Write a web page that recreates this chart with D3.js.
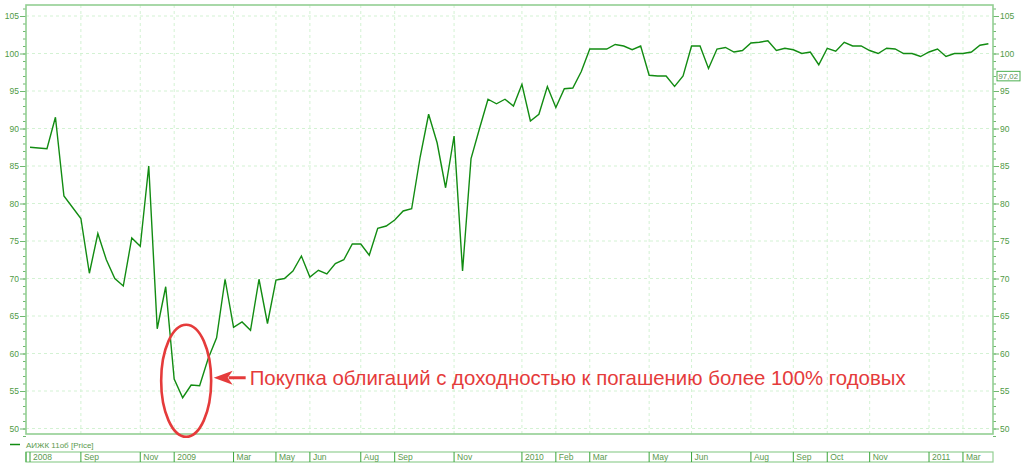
<!DOCTYPE html>
<html><head><meta charset="utf-8">
<script src="https://cdn.jsdelivr.net/npm/d3@7/dist/d3.min.js"></script>
<style>
html,body{margin:0;padding:0;background:#fff;}
svg{display:block;font-family:"Liberation Sans",Arial,sans-serif;}
</style></head><body>
<svg id="chart" width="1024" height="463"></svg>
<script>
// Price series (weekly quotes, index-based axis)
const prices = [
 87.5,87.4,87.3,91.5,81.0,79.5,78.0,70.7,76.0,72.5,
 70.0,69.0,75.4,74.3,85.0,63.3,68.9,56.6,54.1,55.8,
 55.7,59.3,62.1,69.9,63.5,64.2,63.1,69.9,64.0,69.8,
 70.0,71.0,73.0,70.2,71.1,70.6,72.0,72.5,74.6,74.6,
 73.1,76.7,77.0,77.8,79.0,79.3,86.2,91.9,88.1,82.1,
 89.0,71.0,86.0,90.0,93.9,93.3,93.9,93.0,95.9,91.0,
 91.9,95.6,92.8,95.3,95.4,97.6,100.6,100.6,100.6,101.2,
 101.0,100.5,101.0,97.1,97.0,97.0,95.6,97.0,101.0,101.0,
 98.0,100.6,100.8,100.2,100.4,101.4,101.5,101.7,100.4,100.7,
 100.5,100.0,100.2,98.5,100.7,100.3,101.5,101.0,101.0,100.4,
 100.0,100.7,100.6,100.0,100.0,99.6,100.2,100.6,99.6,100.0,
 100.0,100.2,101.1,101.3
];
// Period labels and the data index where each period begins
const periodLabels = ["2008","Sep","Nov","2009","Mar","May","Jun","Aug","Sep","Nov","2010","Feb","Mar","May","Jun","Aug","Sep","Oct","Nov","2011","Mar"];
const periodStart  = [0,6,13,17,24,29,33,39,43,50,58,62,66,73,78,85,90,94,99,106,110];
const yMajorTicks = [50,55,60,65,70,75,80,85,90,95,100,105];
const seriesName = "АИЖК 11об [Price]";
const lastQuote = 97.02;
const lastQuoteLabel = "97,02";
const noteText = "Покупка облигаций с доходностью к погашению более 100% годовых";
const noteIndex = 18, noteValue = 55.7;

const svg = d3.select("#chart");
const L = 26, R = 993, T = 5, B = 434;
const x = d3.scaleLinear().domain([0, prices.length - 1]).range([30, 988.4]);
const y = d3.scaleLinear().domain([50, 105]).range([428.5, 16]);

const gridC = "#d3f2d3", borderC = "#93cf93", labelC = "#4f9a45", sepC = "#3aa53a";

// grid
svg.append("g").selectAll("line").data(yMajorTicks).join("line")
  .attr("x1", L).attr("x2", R).attr("y1", d => y(d)).attr("y2", d => y(d))
  .attr("stroke", gridC).attr("stroke-dasharray", "3,3");
svg.append("g").selectAll("line").data(periodStart.slice(1)).join("line")
  .attr("x1", d => x(d)).attr("x2", d => x(d)).attr("y1", T).attr("y2", B)
  .attr("stroke", gridC).attr("stroke-dasharray", "3,3");

// axes
function styleAxis(g){
  g.select(".domain").remove();
  g.selectAll(".tick line").attr("stroke", "#6fb86f");
  g.selectAll(".tick text").attr("fill", labelC).attr("font-size", 8.5)
   .attr("font-family", "Liberation Sans, Arial, sans-serif");
}
const minorTicks = d3.range(49, 107, 1);
svg.append("g").attr("transform", `translate(${L},0)`)
  .call(d3.axisLeft(y).tickValues(minorTicks).tickSize(3).tickFormat("")).call(styleAxis);
svg.append("g").attr("transform", `translate(${L},0)`)
  .call(d3.axisLeft(y).tickValues(yMajorTicks).tickSize(6).tickPadding(1)).call(styleAxis);
svg.append("g").attr("transform", `translate(${R},0)`)
  .call(d3.axisRight(y).tickValues(minorTicks).tickSize(3).tickFormat("")).call(styleAxis);
svg.append("g").attr("transform", `translate(${R},0)`)
  .call(d3.axisRight(y).tickValues(yMajorTicks).tickSize(6).tickPadding(1)).call(styleAxis);

// plot border
svg.append("rect").attr("x", L).attr("y", T).attr("width", R - L).attr("height", B - T)
  .attr("fill", "none").attr("stroke", borderC).attr("stroke-width", 1.6);

// price line
svg.append("path").datum(prices)
  .attr("d", d3.line().x((d, i) => x(i)).y(d => y(d)))
  .attr("fill", "none").attr("stroke", "#128c12").attr("stroke-width", 1.4)
  .attr("stroke-linejoin", "miter");

// last quote box
const lq = svg.append("g").attr("transform", `translate(997,${y(lastQuote)})`);
lq.append("rect").attr("x", 0).attr("y", -4.5).attr("width", 23).attr("height", 9.5)
  .attr("fill", "#fff").attr("stroke", "#4caf50").attr("stroke-width", 1);
lq.append("text").attr("x", 1.5).attr("y", 3.2).attr("font-size", 7.8).attr("fill", "#5a8a55").text(lastQuoteLabel);

// legend
svg.append("line").attr("x1", 10).attr("x2", 20).attr("y1", 444.5).attr("y2", 444.5)
  .attr("stroke", "#128c12").attr("stroke-width", 1.5);
svg.append("text").attr("x", 26).attr("y", 447.5).attr("font-size", 8).attr("fill", "#5a9a4e").text(seriesName);

// time axis strip
const stripT = 452, stripB = 462;
svg.append("rect").attr("x", L).attr("y", stripT).attr("width", R - L).attr("height", stripB - stripT)
  .attr("fill", "none").attr("stroke", borderC).attr("stroke-width", 1.2);
svg.append("line").attr("x1", L).attr("x2", L).attr("y1", stripT).attr("y2", stripB).attr("stroke", sepC);
const per = svg.append("g").selectAll("g").data(periodLabels.map((l, i) => ({l, s: periodStart[i]}))).join("g")
  .attr("transform", d => `translate(${x(d.s)},0)`);
per.append("line").attr("x1", 0).attr("x2", 0).attr("y1", stripT).attr("y2", stripB)
  .attr("stroke", sepC).attr("stroke-width", 1);
per.append("text").attr("x", 3).attr("y", stripB - 2).attr("font-size", 8.5).attr("fill", "#5a9a4e").text(d => d.l);

// annotation
const red = "#e53b3b";
const cx = x(noteIndex) + 3.5, cy = y(noteValue) - 5;
svg.append("ellipse").attr("cx", cx).attr("cy", cy).attr("rx", 25).attr("ry", 56)
  .attr("fill", "none").attr("stroke", red).attr("stroke-width", 2.6);
const tipX = cx + 27.5, tipY = cy - 3;
svg.append("line").attr("x1", tipX + 15).attr("x2", tipX + 32).attr("y1", tipY).attr("y2", tipY)
  .attr("stroke", red).attr("stroke-width", 3);
svg.append("path").attr("d", `M${tipX},${tipY} L${tipX + 19},${tipY - 7} L${tipX + 14},${tipY} L${tipX + 19},${tipY + 7} Z`)
  .attr("fill", red);
svg.append("text").attr("x", tipX + 36).attr("y", tipY + 7).attr("font-size", 20.4)
  .attr("fill", red).text(noteText);
</script>
</body></html>
